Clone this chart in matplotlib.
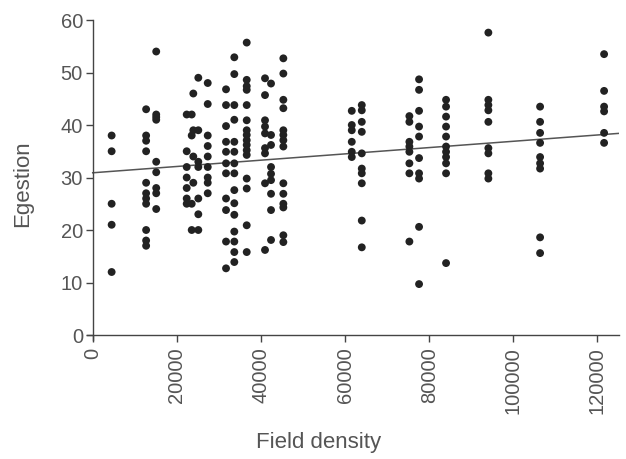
import matplotlib
matplotlib.use("Agg")
import matplotlib.pyplot as plt

# field density columns and egestion values
col_x = [4500, 12700, 15100, 22350, 23540, 23920, 25110, 27350, 31700, 33670,
         36620, 40970, 42400, 45330, 61600, 63980, 75300, 77600, 84020,
         94080, 106380, 121600]
col_y = [
    [38, 35, 25, 21, 12],
    [43, 38, 37, 35, 29, 27, 26, 25, 20, 18, 17],
    [54, 42, 41.5, 41, 33, 31, 28, 27, 24],
    [42, 35, 32, 30, 28, 26, 25],
    [42, 38, 25, 20],
    [46, 39, 34, 29],
    [49, 39, 33, 32, 26, 23, 20],
    [48, 44, 38, 36, 34, 32, 30, 29, 27],
    [46.8, 43.8, 39.8, 36.8, 34.9, 32.7, 30.8, 26, 23.8, 17.8, 12.7],
    [52.9, 49.7, 43.8, 41, 36.8, 34.9, 32.7, 30.8, 27.6, 25.1, 22.9, 19.7,
     17.8, 15.8, 13.9],
    [55.7, 48.6, 47.4, 46.7, 43.8, 40.9, 39, 38.1, 37.1, 36.2, 35.2, 34.3,
     29.8, 27.9, 20.9, 15.8],
    [48.9, 45.7, 40.9, 39.7, 38.4, 35.6, 34.6, 28.9, 16.2],
    [47.9, 38.1, 36.2, 32, 30.7, 29.5, 26.9, 23.8, 18.1],
    [52.7, 49.8, 44.8, 43.2, 39, 38.1, 37.1, 35.9, 28.9, 26.9, 25, 24.3, 19,
     17.7],
    [42.7, 40, 39, 36.8, 34.9, 33.9],
    [43.8, 42.8, 40.6, 38.7, 34.6, 31.7, 30.8, 28.9, 21.8, 16.7],
    [41.7, 40.6, 36.8, 35.9, 34.9, 32.7, 30.8, 17.8],
    [48.7, 46.7, 42.7, 39.7, 37.8, 33.7, 30.8, 29.8, 20.6, 9.7],
    [44.8, 43.5, 41.6, 39.7, 37.8, 35.9, 34.9, 33.9, 32.7, 30.8, 13.7],
    [57.6, 44.8, 43.8, 42.8, 40.6, 35.6, 34.6, 30.8, 29.8],
    [43.5, 40.6, 38.5, 36.6, 33.9, 32.7, 31.7, 18.6, 15.6],
    [53.5, 46.5, 43.5, 42.6, 38.5, 36.6],
]

# fitted line end points
line_x = [0, 125000]
line_y = [30.9, 38.4]

x_ticks = [0, 20000, 40000, 60000, 80000, 100000, 120000]
y_ticks = [0, 10, 20, 30, 40, 50, 60]

plt.rcParams['font.family'] = ['Liberation Sans', 'DejaVu Sans']

xs, ys = [], []
for cx, vals in zip(col_x, col_y):
    xs += [cx] * len(vals)
    ys += vals

fig = plt.figure(figsize=(6.26, 4.59), dpi=100)
ax = fig.add_axes([0.1387, 0.2587, 0.8505, 0.6977])

ax.plot(line_x, line_y, color='#555555', lw=1.1, zorder=1)
ax.scatter(xs, ys, s=32, color='#222222', edgecolors='none', zorder=2)

ax.set_xlim(-1400, 125200)
ax.set_ylim(-1, 60)
for side in ['top', 'right']:
    ax.spines[side].set_visible(False)
ax.spines['left'].set_position(('data', 0))
ax.spines['bottom'].set_position(('data', 0))
for side in ['left', 'bottom']:
    ax.spines[side].set_color('#444444')
    ax.spines[side].set_linewidth(1.0)

ax.set_xticks(x_ticks)
ax.set_xticklabels([str(t) for t in x_ticks], rotation=90)
ax.set_yticks(y_ticks)
ax.tick_params(direction='out', length=5, width=1, color='#444444',
               labelsize=14.5, labelcolor='#555555')
ax.tick_params(axis='x', pad=4)
ax.tick_params(axis='y', pad=2)

ax.set_xlabel('Field density', fontsize=16, color='#555555')
ax.set_ylabel('Egestion', fontsize=16, color='#555555')
ax.xaxis.set_label_coords(0.436, -0.287)
ax.yaxis.set_label_coords(-0.1005, 0.488)

fig.savefig('out.png', dpi=100)
